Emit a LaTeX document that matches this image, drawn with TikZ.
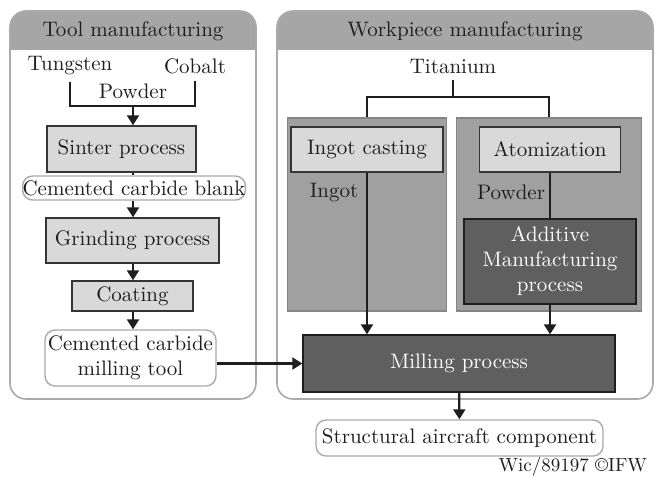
\documentclass[tikz,border=0pt]{standalone}
\usepackage{tikz}
\usetikzlibrary{arrows.meta,positioning}

\definecolor{headgray}{RGB}{166,166,166}
\definecolor{framegray}{RGB}{170,170,170}
\definecolor{lightbox}{RGB}{217,217,217}
\definecolor{panelgray}{RGB}{160,160,160}
\definecolor{darkbox}{RGB}{95,95,95}
\definecolor{inkgray}{RGB}{30,30,30}

\begin{document}
\begin{tikzpicture}[x=0.5pt, y=-0.5pt,
  >={Triangle[length=5pt,width=6pt]},
  every node/.style={font=\fontsize{10.5}{12.5}\selectfont, text=inkgray},
  flow/.style={line width=1.1pt, draw=inkgray},
  lightstep/.style={draw=inkgray!90, line width=0.7pt, fill=lightbox, inner sep=0pt},
  darkstep/.style={draw=inkgray, line width=0.7pt, fill=darkbox, text=white, inner sep=0pt, align=center},
  resultbox/.style={draw=framegray, line width=0.7pt, fill=white, rounded corners=5pt, inner sep=0pt, align=center},
  routebox/.style={draw=headgray!80!black, line width=0.7pt, fill=panelgray, inner sep=0pt}]

  \useasboundingbox[fill=white] (0,0) rectangle (656,479);

  \newcommand\YHEAD{50};
  \newcommand\YTOP{11};
  \newcommand\YBOT{399};

  % panel frames with grey title bands
  \begin{scope}
    \clip[rounded corners=8pt] (10,\YTOP) rectangle (256,\YBOT);
    \fill[headgray] (10,\YTOP) rectangle (256,\YHEAD);
  \end{scope}
  \begin{scope}
    \clip[rounded corners=8pt] (277,\YTOP) rectangle (653,\YBOT);
    \fill[headgray] (277,\YTOP) rectangle (653,\YHEAD);
  \end{scope}
  \draw[framegray, line width=0.8pt, rounded corners=8pt] (10,\YTOP) rectangle (256,\YBOT);
  \draw[framegray, line width=0.8pt, rounded corners=8pt] (277,\YTOP) rectangle (653,\YBOT);

  \node (tooltitle) at (133,31) {Tool manufacturing};
  \node (worktitle) at (465,31) {Workpiece manufacturing};

  % tool side
  \node (tungsten) at (70,66) {Tungsten};
  \node (cobalt) at (195,66) {Cobalt};
  \node (powderA) at (133,91) {Powder};
  \coordinate (joinA) at (133,106);

  \node[lightstep, minimum width=74.5pt, minimum height=23pt] (sinter) at (121.5,149) {Sinter process};
  \node[resultbox, minimum width=111pt, minimum height=12pt] (blank) at (134,188) {Cemented carbide blank};
  \node[lightstep, minimum width=86.5pt, minimum height=22.5pt] (grinding) at (132.5,240.5) {Grinding process};
  \node[lightstep, minimum width=60.5pt, minimum height=15pt] (coating) at (132.5,296) {Coating};
  \node[resultbox, minimum width=85.5pt, minimum height=28pt] (tool) at (130.5,358) {Cemented carbide\\milling tool};

  \draw[flow] (tungsten.south) |- (joinA) -| (cobalt.south);
  \draw[flow, ->] (joinA) -- (joinA |- sinter.north);
  \draw[flow] (sinter.south -| joinA) -- (blank.north -| joinA);
  \draw[flow, ->] (blank.south -| joinA) -- (grinding.north -| joinA);
  \draw[flow, ->] (grinding.south -| joinA) -- (coating.north -| joinA);
  \draw[flow, ->] (coating.south -| joinA) -- (tool.north -| joinA);

  % workpiece side
  \node (titanium) at (453,66) {Titanium};
  \coordinate (split) at (453,97);

  \node[routebox, minimum width=79.5pt, minimum height=96.5pt] (castpanel) at (367,214.5) {};
  \node[routebox, minimum width=92.5pt, minimum height=96.5pt] (atompanel) at (549,214.5) {};

  \node[lightstep, minimum width=76pt, minimum height=22.5pt] (casting) at (367,149.5) {Ingot casting};
  \node[lightstep, minimum width=70.5pt, minimum height=22.5pt] (atom) at (550,149.5) {Atomization};
  \node (ingot) at (334,192) {Ingot};
  \node (powderB) at (511,192) {Powder};
  \node[darkstep, minimum width=86pt, minimum height=42.5pt] (am) at (550,261.5) {Additive\\Manufacturing\\process};

  \node[darkstep, minimum width=156pt, minimum height=28.5pt] (milling) at (459,363.5) {Milling process};
  \node[resultbox, minimum width=143.5pt, minimum height=18pt] (product) at (459.5,438) {Structural aircraft component};

  \draw[flow] (titanium.south) -- (split);
  \draw[flow] (castpanel.north) |- (split) -| (atompanel.north);
  \draw[flow, ->] (casting) -- (casting |- milling.north);
  \draw[flow] (atom) -- (am);
  \draw[flow, ->] (am) -- (am |- milling.north);
  \draw[flow, ->] (tool.east |- milling.west) -- (milling.west);
  \draw[flow, ->] (milling) -- (product);

  \node[anchor=east, font=\fontsize{9.5}{11}\selectfont] (credit) at (654,467) {Wic/89197 \copyright IFW};

\end{tikzpicture}
\end{document}
